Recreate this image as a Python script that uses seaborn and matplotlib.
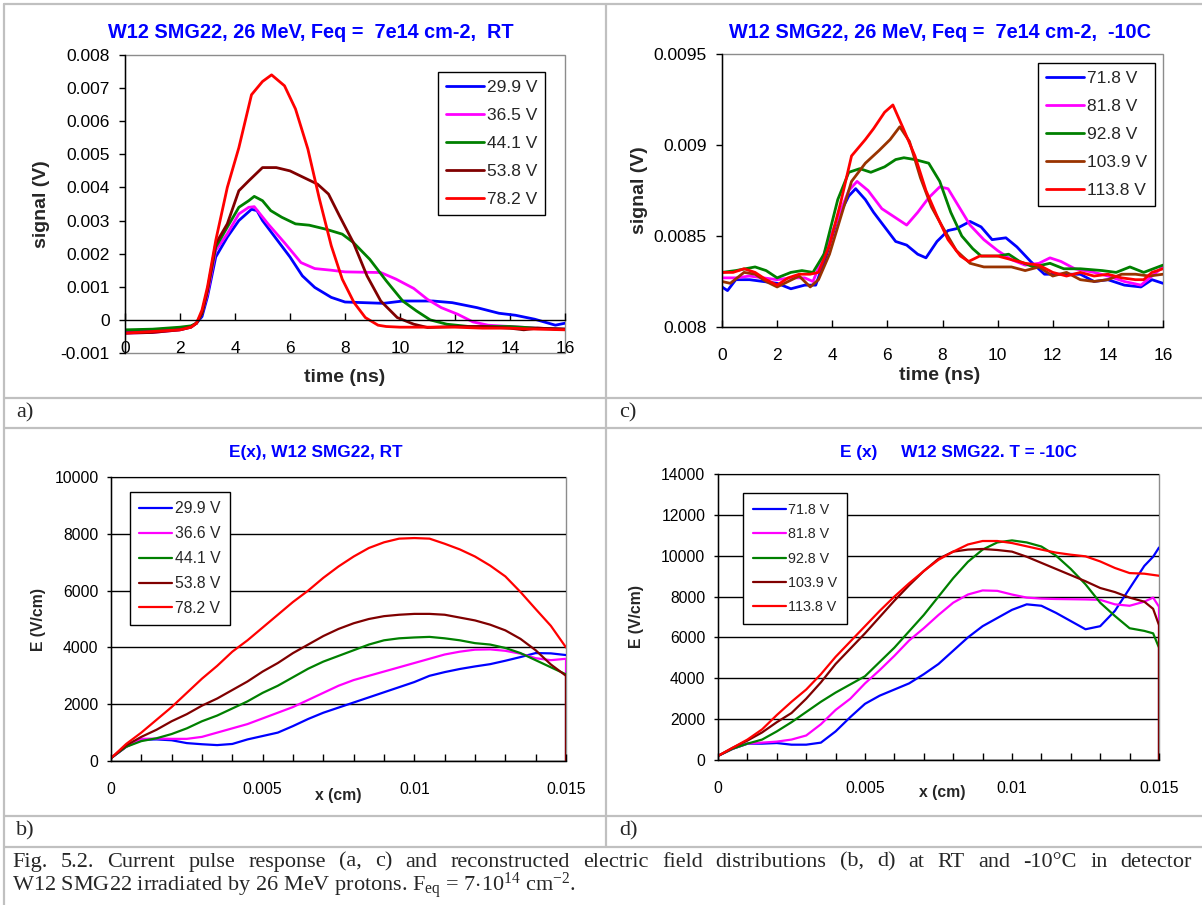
import numpy as np
import pandas as pd
import matplotlib
matplotlib.use("Agg")
import matplotlib.pyplot as plt
import seaborn as sns
from matplotlib.lines import Line2D
from matplotlib.patches import Rectangle
from matplotlib.ticker import MultipleLocator, FuncFormatter, FixedLocator

# ---------------- data: panel a (RT pulses) ----------------
a_labels = ["29.9 V", "36.5 V", "44.1 V", "53.8 V", "78.2 V"]
a_colors = ["#0000FF", "#FF00FF", "#008000", "#800000", "#FF0000"]

a_t_299 = [0, 1, 2, 2.4, 2.6, 2.8, 3.0, 3.3, 3.72, 4.14, 4.6, 4.8, 5.0, 5.5, 6.0, 6.45, 6.9, 7.5, 8.0, 8.7,
           9.4, 10.1, 11.2, 11.9, 12.8, 13.6, 14.2, 14.9, 15.65, 16]
a_v_299 = [-0.00033, -0.0003, -0.00025, -0.0002, -0.0001, 0.0001, 0.0007, 0.0019, 0.0025, 0.003, 0.00334,
           0.0033, 0.003, 0.00245, 0.0019, 0.00133, 0.00098, 0.00068, 0.00054, 0.00052, 0.0005, 0.00057,
           0.00057, 0.00052, 0.00037, 0.0002, 0.00014, 0.00002, -0.00016, -0.0001]

a_t_365 = [0, 1, 2, 2.4, 2.6, 2.8, 3.0, 3.3, 3.72, 4.14, 4.5, 4.7, 5.2, 5.8, 6.4, 6.9, 7.5, 8.0, 9.3, 9.86,
           10.5, 11, 11.5, 12.1, 12.65, 13.2, 14, 15, 16]
a_v_365 = [-0.0004, -0.00038, -0.0003, -0.00022, -0.0001, 0.0002, 0.0008, 0.0021, 0.0026, 0.0032, 0.0034,
           0.00342, 0.0029, 0.00233, 0.00173, 0.00155, 0.0015, 0.00145, 0.00143, 0.00123, 0.00095, 0.00062,
           0.00037, 0.00017, -0.00006, -0.00016, -0.0002, -0.00025, -0.00028]

a_t_441 = [0, 1, 2, 2.4, 2.6, 2.8, 3.0, 3.3, 3.72, 4.14, 4.5, 4.7, 5.0, 5.3, 5.7, 6.2, 6.7, 7.3, 7.9, 8.3,
           8.9, 9.5, 10.1, 10.6, 11.1, 11.7, 12.5, 14, 15, 16]
a_v_441 = [-0.0003, -0.00028, -0.00022, -0.00018, -0.0001, 0.0002, 0.0009, 0.0022, 0.0028, 0.0034, 0.0036,
           0.00373, 0.0036, 0.0033, 0.0031, 0.0029, 0.00286, 0.00274, 0.00259, 0.00234, 0.00183, 0.00118,
           0.00057, 0.00027, 0.0, -0.00013, -0.0002, -0.0002, -0.00025, -0.00028]

a_t_538 = [0, 1, 2, 2.4, 2.6, 2.8, 3.0, 3.3, 3.72, 4.14, 4.5, 5.0, 5.5, 6.0, 6.5, 7.0, 7.4, 7.8, 8.3, 8.8,
           9.3, 9.9, 10.5, 11, 12, 13, 14, 14.5, 15, 16]
a_v_538 = [-0.0004, -0.00038, -0.0003, -0.00022, -0.0001, 0.0002, 0.0009, 0.0023, 0.0029, 0.0039, 0.0042,
           0.0046, 0.0046, 0.0045, 0.0043, 0.0041, 0.0038, 0.00314, 0.00234, 0.00133, 0.00057, 0.00007,
           -0.00013, -0.00023, -0.0002, -0.0002, -0.00025, -0.0003, -0.00025, -0.00028]

a_t_782 = [0, 1, 2, 2.4, 2.6, 2.8, 3.0, 3.3, 3.72, 4.14, 4.6, 5.0, 5.33, 5.8, 6.2, 6.65, 7.07, 7.5, 7.9, 8.33,
           8.74, 9.2, 9.5, 10, 11, 12, 13, 14, 15, 16]
a_v_782 = [-0.0004, -0.00035, -0.0003, -0.00022, -0.0001, 0.0003, 0.0010, 0.0024, 0.0040, 0.0052, 0.0068,
           0.0072, 0.0074, 0.00707, 0.00637, 0.00516, 0.00365, 0.00224, 0.00123, 0.00052, 0.00007, -0.00016,
           -0.0002, -0.00022, -0.00022, -0.00022, -0.00025, -0.00025, -0.00028, -0.0003]

# ---------------- data: panel c (-10C pulses) ----------------
c_labels = ["71.8 V", "81.8 V", "92.8 V", "103.9 V", "113.8 V"]
c_colors = ["#0000FF", "#FF00FF", "#008000", "#993300", "#FF0000"]

c_t_718 = [0, 0.2, 0.5, 1, 1.5, 2, 2.5, 3, 3.4, 3.8, 4.2, 4.6, 4.85, 5.2, 5.5, 6, 6.3, 6.7, 7.1, 7.4,
           7.8, 8.2, 8.5, 9, 9.4, 9.8, 10.3, 10.7, 11.2, 11.7, 12.3, 13, 13.5, 14, 14.6, 15.2, 15.6, 16]
c_v_718 = [0.00822, 0.0082, 0.00826, 0.00826, 0.00825, 0.00824, 0.00821, 0.00823, 0.00823, 0.0084,
           0.0086, 0.00872, 0.00876, 0.0087, 0.00863, 0.00853, 0.00847, 0.00845, 0.0084, 0.00838,
           0.00847, 0.00853, 0.00854, 0.00858, 0.00855, 0.00848, 0.00849, 0.00844, 0.00836, 0.00829,
           0.00829, 0.00829, 0.00825, 0.00826, 0.00823, 0.00822, 0.00826, 0.00824]

c_t_818 = [0, 0.5, 1, 1.5, 2, 2.5, 3, 3.3, 3.7, 4.2, 4.6, 4.9, 5.3, 5.8, 6.3, 6.7, 7.1, 7.5, 7.9, 8.2,
           8.6, 9, 9.5, 10, 10.5, 11, 11.5, 11.9, 12.3, 12.8, 13.5, 14, 14.6, 15.2, 15.6, 16]
c_v_818 = [0.00827, 0.00827, 0.00828, 0.00827, 0.00826, 0.00827, 0.00827, 0.00825, 0.0084, 0.0086,
           0.00875, 0.0088, 0.00875, 0.00865, 0.0086, 0.00856, 0.00863, 0.00871, 0.00877, 0.00876,
           0.00866, 0.00856, 0.00848, 0.00842, 0.00837, 0.00834, 0.00835, 0.00838, 0.00836, 0.00832,
           0.0083, 0.00828, 0.00825, 0.00823, 0.00828, 0.00833]

c_t_928 = [0, 0.5, 1.2, 1.6, 2, 2.5, 2.9, 3.3, 3.7, 4.2, 4.6, 5.0, 5.4, 5.9, 6.3, 6.6, 7.0, 7.5, 7.9, 8.3,
           8.7, 9.1, 9.4, 10, 10.4, 10.8, 11.3, 11.9, 12.4, 13, 13.8, 14.3, 14.8, 15.3, 16]
c_v_928 = [0.0083, 0.00831, 0.00833, 0.00831, 0.00827, 0.0083, 0.00831, 0.0083, 0.0084, 0.0087,
           0.00885, 0.00887, 0.00885, 0.00888, 0.00892, 0.00893, 0.00892, 0.0089, 0.0088, 0.00863,
           0.0085, 0.00843, 0.00839, 0.00839, 0.0084, 0.00836, 0.00833, 0.00835, 0.00832, 0.00832,
           0.00831, 0.0083, 0.00833, 0.0083, 0.00834]

c_t_1039 = [0, 0.3, 0.8, 1.2, 1.6, 2.0, 2.4, 2.8, 3.2, 3.5, 3.9, 4.3, 4.7, 5.2, 5.7, 6.1, 6.45, 6.8, 7.2, 7.6,
            8, 8.5, 9, 9.5, 10, 10.5, 11, 11.5, 12, 12.5, 13, 13.5, 14, 14.5, 15, 15.5, 16]
c_v_1039 = [0.00825, 0.00824, 0.0083, 0.00829, 0.00825, 0.00822, 0.00825, 0.00828, 0.00822, 0.00826,
            0.0084, 0.0086, 0.0088, 0.0089, 0.00897, 0.00903, 0.0091, 0.00902, 0.00882, 0.00866,
            0.00855, 0.00842, 0.00835, 0.00833, 0.00833, 0.00833, 0.00831, 0.00833, 0.00828, 0.0083,
            0.00826, 0.00825, 0.00826, 0.00829, 0.00829, 0.00828, 0.00829]

c_t_1138 = [0, 0.4, 0.8, 1.2, 1.6, 2, 2.4, 2.8, 3.2, 3.5, 3.9, 4.3, 4.7, 5.2, 5.5, 5.9, 6.2, 6.55, 7.0, 7.4,
            7.8, 8.2, 8.65, 8.95, 9.35, 10, 10.5, 11, 11.5, 12, 12.5, 13, 13.5, 14, 14.5, 15, 15.3, 15.6, 16]
c_v_1138 = [0.0083, 0.0083, 0.00832, 0.0083, 0.00826, 0.00823, 0.00827, 0.00829, 0.00829, 0.0083,
            0.00845, 0.00868, 0.00894, 0.00903, 0.00909, 0.00918, 0.00922, 0.0091, 0.00894, 0.00875,
            0.00861, 0.00848, 0.00839, 0.00836, 0.00839, 0.00839, 0.00837, 0.00835, 0.00834, 0.0083,
            0.00828, 0.0083, 0.00828, 0.00829, 0.00827, 0.00826, 0.00826, 0.0083, 0.00832]

# ---------------- data: panel b (E(x), RT) ----------------
b_labels = ["29.9 V", "36.6 V", "44.1 V", "53.8 V", "78.2 V"]
b_colors = ["#0000FF", "#FF00FF", "#008000", "#800000", "#FF0000"]
b_x = [0, 0.0005, 0.001, 0.0015, 0.002, 0.0025, 0.003, 0.0035, 0.004, 0.0045, 0.005, 0.0055, 0.006,
       0.0065, 0.007, 0.0075, 0.008, 0.0085, 0.009, 0.0095, 0.01, 0.0105, 0.011, 0.0115, 0.012, 0.0125,
       0.013, 0.0135, 0.014, 0.0145, 0.015]
b_x_drop = b_x + [0.015]
b_e_299 = [100, 500, 750, 760, 730, 630, 590, 560, 600, 760, 880, 1000, 1230, 1480, 1700, 1880, 2060,
           2240, 2420, 2600, 2780, 3000, 3130, 3240, 3330, 3410, 3530, 3660, 3800, 3790, 3730]
b_e_366 = [100, 500, 780, 790, 780, 780, 850, 1000, 1150, 1300, 1500, 1700, 1900, 2150, 2400, 2650, 2850,
           3000, 3150, 3300, 3450, 3600, 3750, 3850, 3920, 3930, 3880, 3780, 3620, 3550, 3600, 0]
b_e_441 = [100, 500, 700, 800, 950, 1150, 1400, 1600, 1850, 2100, 2400, 2650, 2950, 3250, 3500, 3700,
           3900, 4100, 4250, 4320, 4350, 4370, 4320, 4250, 4150, 4100, 3980, 3800, 3550, 3300, 3050, 0]
b_e_538 = [100, 550, 850, 1100, 1400, 1650, 1950, 2200, 2500, 2800, 3150, 3450, 3800, 4100, 4400, 4650,
           4850, 5000, 5100, 5150, 5180, 5180, 5150, 5050, 4950, 4800, 4600, 4300, 3900, 3400, 3000, 0]
b_e_782 = [100, 600, 1000, 1450, 1900, 2400, 2900, 3350, 3850, 4250, 4700, 5150, 5600, 6000, 6450, 6850,
           7200, 7500, 7700, 7830, 7850, 7830, 7650, 7450, 7200, 6880, 6500, 5950, 5350, 4760, 4000]

# ---------------- data: panel d (E(x), -10C) ----------------
d_labels = ["71.8 V", "81.8 V", "92.8 V", "103.9 V", "113.8 V"]
d_colors = ["#0000FF", "#FF00FF", "#008000", "#800000", "#FF0000"]
d_x = [0, 0.0005, 0.001, 0.0015, 0.002, 0.0025, 0.003, 0.0035, 0.004, 0.0045, 0.005, 0.0055, 0.006,
       0.0065, 0.007, 0.0075, 0.008, 0.0085, 0.009, 0.0095, 0.01, 0.0105, 0.011, 0.0115, 0.012, 0.0125,
       0.013, 0.0135, 0.014, 0.0145, 0.0148, 0.015]
d_x_drop = d_x + [0.015]
d_e_718 = [200, 550, 800, 800, 830, 750, 750, 850, 1400, 2100, 2750, 3150, 3450, 3750, 4200, 4700, 5350,
           6000, 6550, 6950, 7350, 7620, 7550, 7200, 6800, 6400, 6550, 7300, 8400, 9500, 9950, 10400]
d_e_818 = [200, 550, 800, 850, 900, 1000, 1200, 1750, 2450, 3000, 3750, 4400, 5100, 5850, 6450, 7100,
           7700, 8100, 8300, 8280, 8100, 7950, 7900, 7880, 7870, 7860, 7840, 7620, 7550, 7750, 7950, 7500, 0]
d_e_928 = [200, 550, 800, 1000, 1400, 1850, 2350, 2850, 3300, 3700, 4100, 4800, 5500, 6300, 7100, 8000,
           8900, 9700, 10300, 10650, 10750, 10650, 10450, 10000, 9350, 8600, 7700, 7050, 6450, 6320, 6200,
           5500, 0]
d_e_1039 = [200, 600, 950, 1350, 1850, 2300, 3000, 3800, 4700, 5450, 6200, 7000, 7800, 8550, 9250, 9850,
            10200, 10300, 10330, 10280, 10200, 9950, 9650, 9350, 9050, 8750, 8420, 8220, 7950, 7750, 7400,
            6600, 0]
d_e_1138 = [200, 600, 1000, 1500, 2200, 2850, 3450, 4200, 5050, 5800, 6550, 7300, 8000, 8650, 9250, 9800,
            10200, 10550, 10720, 10720, 10620, 10460, 10300, 10150, 10050, 9970, 9720, 9400, 9150, 9120,
            9060, 9020]

# ---------------- texts ----------------
title_a = "W12 SMG22, 26 MeV, Feq =  7e14 cm-2,  RT"
title_c = "W12 SMG22, 26 MeV, Feq =  7e14 cm-2,  -10C"
title_b = "E(x), W12 SMG22, RT"
title_d = "E (x)     W12 SMG22. T = -10C"
caption_1 = ("Fig. 5.2. Current pulse response (a, c) and reconstructed electric field distributions "
             "(b, d) at RT and -10\u00b0C in detector")
caption_2 = r"W12 SMG22 irradiated by 26 MeV protons. F$_{\rm eq}$ = 7$\cdot$10$^{14}$ cm$^{-2}$."

# ---------------- figure ----------------
sns.set_theme(style="white")
plt.rcParams['font.family'] = ['Liberation Sans', 'DejaVu Sans']
plt.rcParams['mathtext.fontset'] = 'custom'
plt.rcParams['mathtext.rm'] = 'Liberation Serif'
plt.rcParams['mathtext.it'] = 'Liberation Serif:italic'
plt.rcParams['mathtext.bf'] = 'Liberation Serif:bold'

W, H = 1202, 905
fig = plt.figure(figsize=(W / 100, H / 100), dpi=100)
fig.patch.set_facecolor("white")


def fx(x):
    return x / W


def fy(y):
    return 1 - y / H


def add_ax(l, t, r, b):
    return fig.add_axes([l / W, 1 - b / H, (r - l) / W, (b - t) / H])


def long_df(xs, ys, labels):
    frames = [pd.DataFrame({"x": x, "y": y, "series": lab}) for x, y, lab in zip(xs, ys, labels)]
    return pd.concat(frames, ignore_index=True)


def fmt(v, p):
    v = round(v, 6)
    if v == 0:
        return "0"
    return f"{v:g}"


def base_style(ax):
    ax.set_facecolor("white")
    for s in ["top", "right"]:
        ax.spines[s].set_visible(False)
    for s in ["left", "bottom"]:
        ax.spines[s].set_color("black")
        ax.spines[s].set_linewidth(1.0)
        ax.spines[s].set_zorder(3)
    ax.add_patch(Rectangle((0, 0), 1, 1, transform=ax.transAxes, fill=False,
                           edgecolor="#8c8c8c", lw=1.0, clip_on=False, zorder=0.5))
    ax.xaxis.label.set_va("center")
    ax.yaxis.label.set_va("center")


def draw(ax, df, labels, colors, lw):
    sns.lineplot(data=df, x="x", y="y", hue="series", hue_order=labels, palette=colors,
                 estimator=None, sort=False, lw=lw, ax=ax, legend=True)
    h, l = ax.get_legend_handles_labels()
    return h, l


def make_legend(ax, h, l, anchor, fs, spacing, hlen, bpad):
    leg = ax.legend(h, l, loc="upper left", bbox_to_anchor=anchor, borderaxespad=0,
                    frameon=True, fancybox=False, edgecolor="black", framealpha=1,
                    fontsize=fs, handlelength=hlen, handletextpad=0.15,
                    labelspacing=spacing, borderpad=bpad)
    leg.get_frame().set_linewidth(1.0)
    return leg


# ---- panel a ----
ax_a = add_ax(125, 55, 565, 353)
df_a = long_df([a_t_299, a_t_365, a_t_441, a_t_538, a_t_782],
               [a_v_299, a_v_365, a_v_441, a_v_538, a_v_782], a_labels)
h, l = draw(ax_a, df_a, a_labels, a_colors, 2.0)
base_style(ax_a)
ax_a.set_xlim(0, 16)
ax_a.set_ylim(-0.001, 0.008)
ax_a.spines["bottom"].set_position(("data", 0))
ax_a.xaxis.set_major_locator(MultipleLocator(2))
ax_a.yaxis.set_major_locator(MultipleLocator(0.001))
ax_a.xaxis.set_major_formatter(FuncFormatter(fmt))
ax_a.yaxis.set_major_formatter(FuncFormatter(fmt))
ax_a.tick_params(axis="x", bottom=True, direction="in", length=5, width=1, colors="black",
                 labelsize=12.5, pad=15)
ax_a.tick_params(axis="y", left=True, direction="out", length=4, width=1, colors="black",
                 labelsize=12.5, pad=7)
ax_a.set_xlabel("time (ns)", fontsize=14, fontweight="bold")
ax_a.set_ylabel("signal (V)", fontsize=14, fontweight="bold")
ax_a.xaxis.set_label_coords(0.5, (353 - 377) / 298)
ax_a.yaxis.set_label_coords((42 - 125) / 440, 0.5)
make_legend(ax_a, h, l, ((438 - 125) / 440, (353 - 72) / 298), 12.5, 0.74, 2.2, 0.45)
fig.text(fx(311), fy(32), title_a, ha="center", va="center", color="#0000FF",
         fontsize=14.3, fontweight="bold")

# ---- panel c ----
ax_c = add_ax(722, 54, 1163, 327)
df_c = long_df([c_t_718, c_t_818, c_t_928, c_t_1039, c_t_1138],
               [c_v_718, c_v_818, c_v_928, c_v_1039, c_v_1138], c_labels)
h, l = draw(ax_c, df_c, c_labels, c_colors, 2.0)
base_style(ax_c)
ax_c.set_xlim(0, 16)
ax_c.set_ylim(0.008, 0.0095)
ax_c.xaxis.set_major_locator(MultipleLocator(2))
ax_c.yaxis.set_major_locator(MultipleLocator(0.0005))
ax_c.xaxis.set_major_formatter(FuncFormatter(fmt))
ax_c.yaxis.set_major_formatter(FuncFormatter(fmt))
ax_c.tick_params(axis="x", bottom=True, direction="in", length=5, width=1, colors="black",
                 labelsize=12.5, pad=15)
ax_c.tick_params(axis="y", left=True, direction="out", length=4, width=1, colors="black",
                 labelsize=12.5, pad=7)
ax_c.set_xlabel("time (ns)", fontsize=14, fontweight="bold")
ax_c.set_ylabel("signal (V)", fontsize=14, fontweight="bold")
ax_c.xaxis.set_label_coords(0.494, (327 - 376) / 273)
ax_c.yaxis.set_label_coords((640 - 722) / 441, 0.5)
make_legend(ax_c, h, l, ((1038 - 722) / 441, (327 - 63) / 273), 12.5, 0.74, 2.2, 0.45)
fig.text(fx(940), fy(32), title_c, ha="center", va="center", color="#0000FF",
         fontsize=14.3, fontweight="bold")

# ---- panel b ----
ax_b = add_ax(111, 477, 566, 761)
df_b = long_df([b_x, b_x_drop, b_x_drop, b_x_drop, b_x],
               [b_e_299, b_e_366, b_e_441, b_e_538, b_e_782], b_labels)
h, l = draw(ax_b, df_b, b_labels, b_colors, 1.6)
base_style(ax_b)
ax_b.set_xlim(0, 0.015)
ax_b.set_ylim(0, 10000)
ax_b.xaxis.set_major_locator(FixedLocator([0, 0.005, 0.01, 0.015]))
ax_b.xaxis.set_minor_locator(MultipleLocator(0.001))
ax_b.yaxis.set_major_locator(MultipleLocator(2000))
ax_b.xaxis.set_major_formatter(FuncFormatter(fmt))
ax_b.yaxis.set_major_formatter(FuncFormatter(fmt))
ax_b.tick_params(axis="x", which="both", bottom=True, direction="in", length=5, width=1,
                 colors="black", labelsize=11.3, pad=15)
ax_b.tick_params(axis="y", left=True, direction="out", length=3, width=1, colors="black",
                 labelsize=11.3, pad=6)
ax_b.grid(axis="y", which="major", color="black", lw=1.0)
ax_b.set_xlabel("x (cm)", fontsize=11.3, fontweight="bold")
ax_b.set_ylabel("E (V/cm)", fontsize=11.3, fontweight="bold")
ax_b.xaxis.set_label_coords((338 - 111) / 455, (761 - 795) / 284)
ax_b.yaxis.set_label_coords((38 - 111) / 455, 0.5)
make_legend(ax_b, h, l, ((130 - 111) / 455, (761 - 492) / 284), 11.3, 0.63, 2.1, 0.6)
fig.text(fx(316), fy(452), title_b, ha="center", va="center", color="#0000FF",
         fontsize=12.4, fontweight="bold")

# ---- panel d ----
ax_d = add_ax(718, 474, 1159, 760)
df_d = long_df([d_x, d_x_drop, d_x_drop, d_x_drop, d_x],
               [d_e_718, d_e_818, d_e_928, d_e_1039, d_e_1138], d_labels)
h, l = draw(ax_d, df_d, d_labels, d_colors, 1.6)
base_style(ax_d)
ax_d.set_xlim(0, 0.015)
ax_d.set_ylim(0, 14000)
ax_d.xaxis.set_major_locator(FixedLocator([0, 0.005, 0.01, 0.015]))
ax_d.xaxis.set_minor_locator(MultipleLocator(0.001))
ax_d.yaxis.set_major_locator(MultipleLocator(2000))
ax_d.xaxis.set_major_formatter(FuncFormatter(fmt))
ax_d.yaxis.set_major_formatter(FuncFormatter(fmt))
ax_d.tick_params(axis="x", which="both", bottom=True, direction="in", length=5, width=1,
                 colors="black", labelsize=11.3, pad=15)
ax_d.tick_params(axis="y", left=True, direction="out", length=3, width=1, colors="black",
                 labelsize=11.3, pad=6)
ax_d.grid(axis="y", which="major", color="black", lw=1.0)
ax_d.set_xlabel("x (cm)", fontsize=11.3, fontweight="bold")
ax_d.set_ylabel("E (V/cm)", fontsize=11.3, fontweight="bold")
ax_d.xaxis.set_label_coords((942 - 718) / 441, (760 - 793) / 286)
ax_d.yaxis.set_label_coords((637 - 718) / 441, 0.5)
make_legend(ax_d, h, l, ((743 - 718) / 441, (760 - 493) / 286), 10.3, 0.72, 2.3, 0.7)
fig.text(fx(959), fy(452), title_d, ha="center", va="center", color="#0000FF",
         fontsize=12.4, fontweight="bold")

# ---------------- table lines ----------------
GRID_C = "#c0c0c0"
for yy in [4, 398, 428, 816, 847]:
    fig.add_artist(Line2D([fx(4), fx(W)], [fy(yy), fy(yy)], color=GRID_C, lw=1.6,
                          transform=fig.transFigure))
fig.add_artist(Line2D([fx(4), fx(4)], [fy(4), fy(H)], color=GRID_C, lw=1.6, transform=fig.transFigure))
fig.add_artist(Line2D([fx(606), fx(606)], [fy(4), fy(847)], color=GRID_C, lw=1.6,
                      transform=fig.transFigure))

serif = ["Liberation Serif", "DejaVu Serif"]
CAP_FS = 16
fig.text(fx(16), fy(413), "a)", family=serif, fontsize=16, va="center", ha="left")
fig.text(fx(619), fy(413), "c)", family=serif, fontsize=16, va="center", ha="left")
fig.text(fx(16), fy(831), "b)", family=serif, fontsize=16, va="center", ha="left")
fig.text(fx(619), fy(831), "d)", family=serif, fontsize=16, va="center", ha="left")

# first caption line is justified across the cell width, word by word
words = caption_1.split(" ")
word_texts = [fig.text(fx(12), fy(862), w, family=serif, fontsize=CAP_FS, va="center", ha="left")
              for w in words]
fig.text(fx(12), fy(886), caption_2, family=serif, fontsize=CAP_FS, va="center", ha="left")

fig.canvas.draw()
renderer = fig.canvas.get_renderer()
widths = [t.get_window_extent(renderer).width for t in word_texts]
left_px, right_px = 12, 1192
gap = (right_px - left_px - sum(widths)) / (len(words) - 1)
xpos = left_px
for t, wdt in zip(word_texts, widths):
    t.set_x(fx(xpos))
    xpos += wdt + gap

fig.savefig("out.png", dpi=100, facecolor="white")
